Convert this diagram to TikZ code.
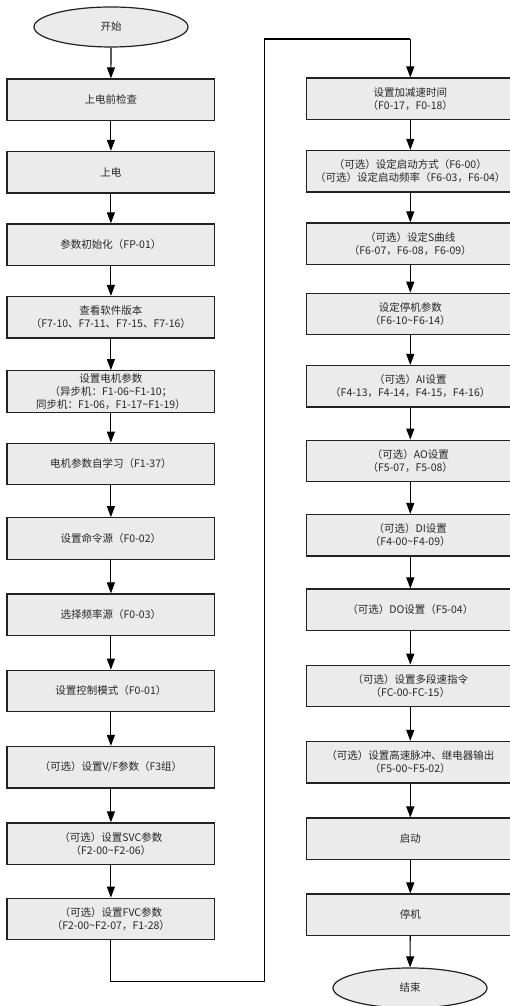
\documentclass[tikz,border=0pt]{standalone}
\usepackage{fontspec}
\newfontfamily\cjk{Noto Sans CJK SC}
\usetikzlibrary{arrows.meta,shapes.geometric}
\definecolor{boxfill}{HTML}{EBEBEB}
\definecolor{boxline}{HTML}{222222}
\tikzset{
  stepbox/.style={draw=boxline, line width=1.2pt, fill=boxfill, rectangle,
    minimum width=207.7pt, minimum height=41.5pt, inner sep=0pt,
    align=center, font=\cjk\fontsize{10.5}{13}\selectfont, text=black!85},
  termin/.style={draw=boxline, line width=1.2pt, fill=boxfill, ellipse,
    minimum width=154pt, minimum height=40pt, inner sep=0pt,
    font=\cjk\fontsize{10.5}{13}\selectfont, text=black!85},
  flow/.style={draw=black, line width=1.1pt, -{Triangle[length=11pt,width=8pt]}},
  link/.style={draw=black, line width=1.1pt}
}
\begin{document}
\begin{tikzpicture}[x=1pt,y=1pt]
\path[use as bounding box] (0,0) rectangle (510,1006);
\clip (0,0) rectangle (510,1006);
% left column (x centre 110.9)
\node[termin]  (s)   at (111,979) {开始};
\node[stepbox] (l1)  at (110.9,906.3) {上电前检查};
\node[stepbox] (l2)  at (110.9,833.8) {上电};
\node[stepbox] (l3)  at (110.9,761.3) {参数初始化（FP-01）};
\node[stepbox] (l4)  at (110.9,688.7) {查看软件版本\\（F7-10、F7-11、F7-15、F7-16）};
\node[stepbox] (l5)  at (110.9,614.5) {设置电机参数\\（异步机：F1-06\textasciitilde F1-10；\\同步机：F1-06，F1-17\textasciitilde F1-19）};
\node[stepbox] (l6)  at (110.9,542) {电机参数自学习（F1-37）};
\node[stepbox] (l7)  at (110.9,467.5) {设置命令源（F0-02）};
\node[stepbox] (l8)  at (110.9,391.2) {选择频率源（F0-03）};
\node[stepbox] (l9)  at (110.9,315) {设置控制模式（F0-01）};
\node[stepbox] (l10) at (110.9,238.8) {（可选）设置V/F参数（F3组）};
\node[stepbox] (l11) at (110.9,162.3) {（可选）设置SVC参数\\（F2-00\textasciitilde F2-06）};
\node[stepbox] (l12) at (110.9,87) {（可选）设置FVC参数\\（F2-00\textasciitilde F2-07，F1-28）};
% right column (x centre 410.3)
\node[stepbox] (r1)  at (410.3,907.2) {设置加减速时间\\（F0-17，F0-18）};
\node[stepbox] (r2)  at (410.3,834.8) {（可选）设定启动方式（F6-00）\\（可选）设定启动频率（F6-03，F6-04）};
\node[stepbox] (r3)  at (410.3,762.3) {（可选）设定S曲线\\（F6-07，F6-08，F6-09）};
\node[stepbox] (r4)  at (410.3,692) {设定停机参数\\（F6-10\textasciitilde F6-14）};
\node[stepbox] (r5)  at (410.3,619.7) {（可选）AI设置\\（F4-13，F4-14，F4-15，F4-16）};
\node[stepbox] (r6)  at (410.3,545) {（可选）AO设置\\（F5-07，F5-08）};
\node[stepbox] (r7)  at (410.3,470.7) {（可选）DI设置\\（F4-00\textasciitilde F4-09）};
\node[stepbox] (r8)  at (410.3,396.2) {（可选）DO设置（F5-04）};
\node[stepbox] (r9)  at (410.3,320) {（可选）设置多段速指令\\（FC-00-FC-15）};
\node[stepbox] (r10) at (410.3,243.8) {（可选）设置高速脉冲、继电器输出\\（F5-00\textasciitilde F5-02）};
\node[stepbox] (r11) at (410.3,167.2) {启动};
\node[stepbox] (r12) at (410.3,91.2) {停机};
\node[termin]  (e)   at (410,18) {结束};
% connectors
\draw[flow] (s) -- (l1);
\foreach \a/\b in {l1/l2,l2/l3,l3/l4,l4/l5,l5/l6,l6/l7,l7/l8,l8/l9,l9/l10,l10/l11,l11/l12,
  r1/r2,r2/r3,r3/r4,r4/r5,r5/r6,r6/r7,r7/r8,r8/r9,r9/r10,r10/r11,r11/r12}
  \draw[flow] (\a) -- (\b);
\draw[flow] (r12) -- (e);
\coordinate (c1) at (110.9,24.3);
\coordinate (c2) at (264.3,24.3);
\coordinate (c3) at (264.3,967);
\coordinate (c4) at (410.3,967);
\draw[link] (l12.south) -- (c1) -- (c2) -- (c3) -- (c4);
\draw[flow] (c4) -- (r1.north);
\end{tikzpicture}
\end{document}
